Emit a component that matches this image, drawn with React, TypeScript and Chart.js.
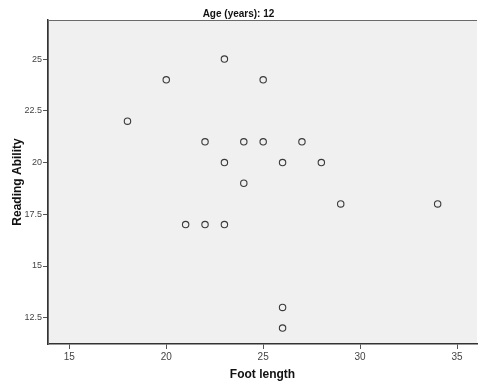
import React, { useEffect, useRef } from "react";
import { Chart, registerables } from "chart.js";

Chart.register(...registerables);

const footLength = [18, 20, 23, 25, 22, 24, 25, 27, 23, 26, 28, 24, 29, 34, 21, 22, 23, 26, 26];
const readingAbility = [22, 24, 25, 24, 21, 21, 21, 21, 20, 20, 20, 19, 18, 18, 17, 17, 17, 13, 12];
const xTicks = [15, 20, 25, 30, 35];
const yTicks = [12.5, 15, 17.5, 20, 22.5, 25];
const titleText = "Age (years): 12";
const xTitle = "Foot length";
const yTitle = "Reading Ability";

const bgPlugin = {
  id: "plotBg",
  beforeDraw(chart: any) {
    const { ctx, chartArea } = chart;
    ctx.save();
    ctx.fillStyle = "#f0f0f0";
    ctx.fillRect(chartArea.left, chartArea.top, chartArea.right - chartArea.left, chartArea.bottom - chartArea.top);
    ctx.restore();
  },
  afterDraw(chart: any) {
    const { ctx, chartArea } = chart;
    ctx.save();
    ctx.strokeStyle = "#6a6a6a";
    ctx.lineWidth = 1;
    ctx.beginPath();
    ctx.moveTo(chartArea.left + 0.5, chartArea.bottom);
    ctx.lineTo(chartArea.left + 0.5, chartArea.top + 0.5);
    ctx.lineTo(chartArea.right, chartArea.top + 0.5);
    ctx.stroke();
    ctx.restore();
  },
};

export default function App() {
  const ref = useRef<HTMLCanvasElement>(null);
  useEffect(() => {
    const data = footLength.map((x, i) => ({ x, y: readingAbility[i] }));
    const chart = new Chart(ref.current!, {
      type: "scatter",
      data: {
        datasets: [
          {
            data,
            pointStyle: "circle",
            pointRadius: 3.2,
            pointBackgroundColor: "rgba(0,0,0,0)",
            pointBorderColor: "#3a3a3a",
            pointBorderWidth: 1.1,
          },
        ],
      },
      plugins: [bgPlugin],
      options: {
        responsive: false,
        animation: false,
        layout: { autoPadding: false, padding: { right: 1, left: 0, bottom: 0, top: 0 } },
        plugins: {
          legend: { display: false },
          tooltip: { enabled: false },
          title: {
            display: true,
            text: titleText,
            color: "#111",
            font: { family: "Arial, Liberation Sans", size: 10, weight: "bold" },
            padding: { top: 8, bottom: 0 },
          },
        },
        scales: {
          x: {
            type: "linear",
            min: 13.9,
            max: 36.03,
            afterFit(scale: any) {
              scale.height = 41;
              scale.paddingLeft = 0;
              scale.paddingRight = 0;
            },
            afterBuildTicks(scale: any) {
              scale.ticks = xTicks.map((v) => ({ value: v }));
            },
            ticks: {
              color: "#444",
              padding: 2,
              font: { family: "Arial, Liberation Sans", size: 10 },
              callback: (v: any) => String(v),
              maxRotation: 0,
            },
            grid: { drawOnChartArea: false, drawTicks: true, tickLength: 5, color: "#555" },
            border: { display: true, color: "#333", width: 1.5 },
            title: {
              display: true,
              text: xTitle,
              color: "#111",
              font: { family: "Arial, Liberation Sans", size: 12, weight: "bold" },
              padding: { top: 0, bottom: 3 },
            },
          },
          y: {
            type: "linear",
            min: 11.23,
            max: 26.89,
            afterFit(scale: any) {
              scale.width = 48;
              scale.paddingTop = 0;
              scale.paddingBottom = 0;
            },
            afterBuildTicks(scale: any) {
              scale.ticks = yTicks.map((v) => ({ value: v }));
            },
            ticks: {
              color: "#444",
              padding: 1,
              font: { family: "Arial, Liberation Sans", size: 9 },
              callback: (v: any) => String(v),
            },
            grid: { drawOnChartArea: false, drawTicks: true, tickLength: 5, color: "#555" },
            border: { display: true, color: "#333", width: 1.5 },
            title: {
              display: true,
              text: yTitle,
              color: "#111",
              font: { family: "Arial, Liberation Sans", size: 12, weight: "bold" },
              padding: { top: 10, bottom: 0 },
            },
          },
        },
      },
    } as any);
    return () => chart.destroy();
  }, []);
  return (
    <div style={{ position: "fixed", left: 0, top: 0, width: 478, height: 385, background: "#fff" }}>
      <canvas ref={ref} width={478} height={385} />
    </div>
  );
}
